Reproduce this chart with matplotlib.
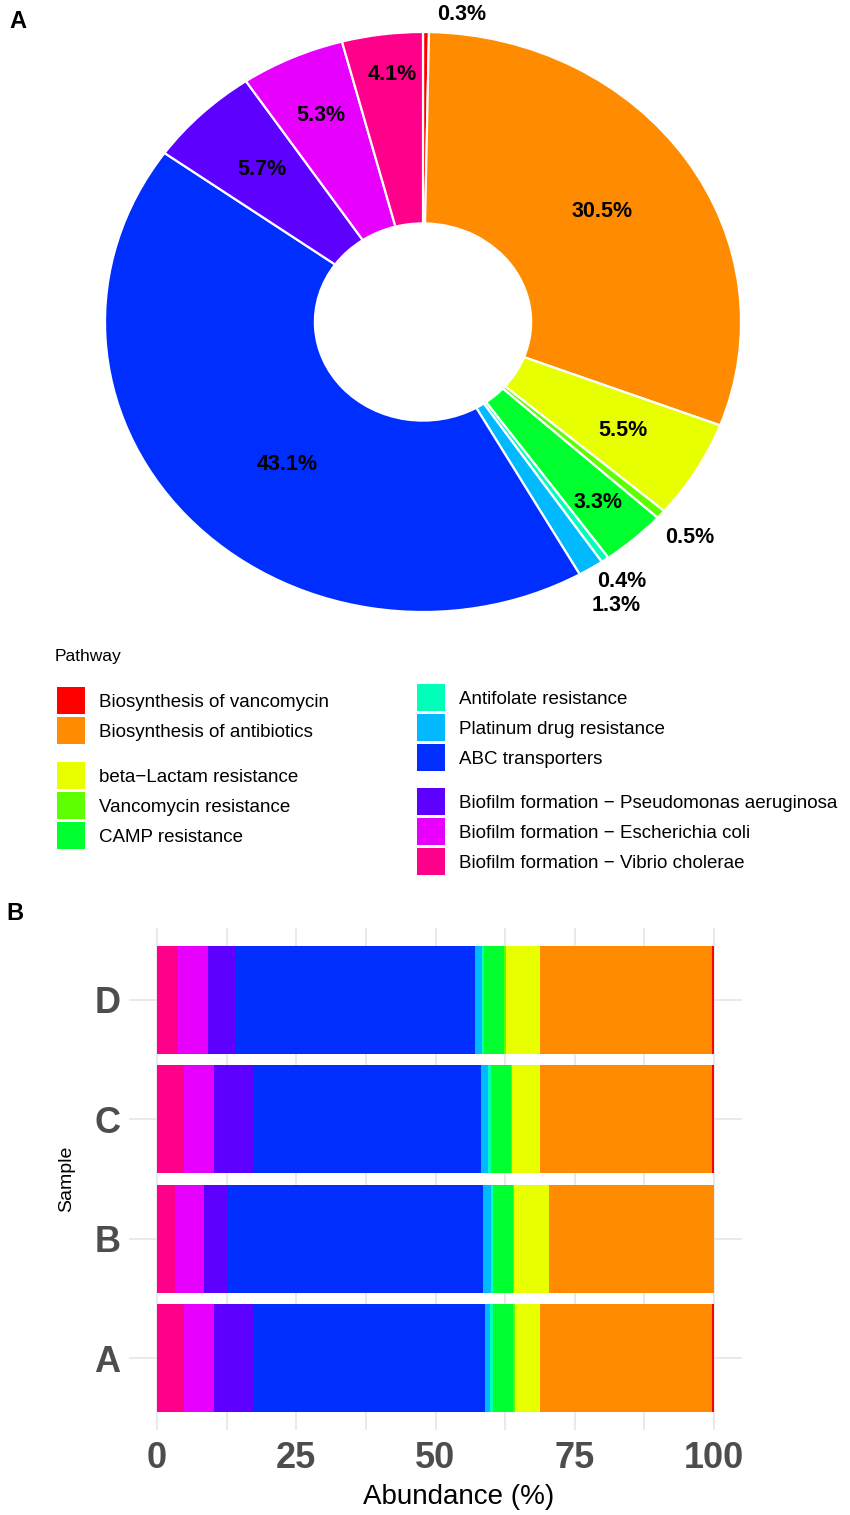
import numpy as np
import matplotlib
matplotlib.use("Agg")
import matplotlib.pyplot as plt
from matplotlib.patches import Patch
from matplotlib.font_manager import FontProperties

plt.rcParams['font.family'] = ['Liberation Sans', 'DejaVu Sans']

# pathway order = order of the pie (clockwise from 12 o'clock)
pathways = [
    "Biosynthesis of vancomycin",
    "Biosynthesis of antibiotics",
    "beta\u2212Lactam resistance",
    "Vancomycin resistance",
    "CAMP resistance",
    "Antifolate resistance",
    "Platinum drug resistance",
    "ABC transporters",
    "Biofilm formation \u2212 Pseudomonas aeruginosa",
    "Biofilm formation \u2212 Escherichia coli",
    "Biofilm formation \u2212 Vibrio cholerae",
]
colors = ["#FF0000", "#FF8B00", "#E8FF00", "#5DFF00", "#00FF2E", "#00FFB9",
          "#00B9FF", "#002EFF", "#5D00FF", "#E800FF", "#FF008B"]
overall_pct = [0.3, 30.5, 5.5, 0.5, 3.3, 0.4, 1.3, 43.1, 5.7, 5.3, 4.1]

samples = ["A", "B", "C", "D"]
# abundance (%) per sample, same order as pathways
abund_A = [0.4, 30.8, 4.6, 0.3, 3.5, 0.7, 0.9, 41.6, 6.9, 5.5, 4.8]
abund_B = [0.1, 29.6, 6.2, 0.2, 3.6, 0.3, 1.4, 46.1, 4.0, 5.2, 3.3]
abund_C = [0.3, 31.0, 4.9, 0.2, 3.7, 0.5, 1.3, 40.7, 7.1, 5.5, 4.8]
abund_D = [0.3, 30.9, 6.1, 0.4, 3.6, 0.3, 1.3, 43.0, 5.0, 5.3, 3.8]
abundance = np.array([abund_A, abund_B, abund_C, abund_D])

W, H = 850, 1515
fig = plt.figure(figsize=(W / 100, H / 100), dpi=100)


def fx(px):
    return px / W


def fy(py):
    return 1 - py / H


# ---------- A: donut ----------
ax = fig.add_axes([fx(105), fy(612), fx(636), 580 / H])
ax.pie(overall_pct, colors=colors, startangle=90, counterclock=False, radius=1,
       wedgeprops=dict(width=0.66, edgecolor='white', linewidth=1.6))
ax.set_aspect('auto')
ax.set_xlim(-1, 1)
ax.set_ylim(-1, 1)
ax.axis('off')

# label radius per slice (inside ring for big slices, outside for small ones)
label_r = {0: 1.06, 1: 0.68, 2: 0.73, 3: 1.12, 4: 0.83, 5: 1.09, 6: 1.15,
           7: 0.65, 8: 0.73, 9: 0.78, 10: 0.86}
nudge = {0: (36, 0), 7: (18, -17), 10: (4, 0)}
cum = np.cumsum([0] + overall_pct)
for i, p in enumerate(overall_pct):
    ang = np.deg2rad((cum[i] + p / 2) / 100 * 360)
    r = label_r[i]
    x, y = r * np.sin(ang), r * np.cos(ang)
    ax.annotate(f"{p}%", (x, y), xytext=nudge.get(i, (0, 0)), textcoords='offset pixels',
                ha='center', va='center', fontsize=15.5, fontweight='bold',
                color='black', annotation_clip=False)

fig.text(fx(9), fy(21), "A", fontsize=17, fontweight='bold', va='center', ha='left')

# ---------- legend ----------
fig.text(fx(55), fy(656), "Pathway", fontsize=12.5, va='center', ha='left')
groups = [([0, 1], (57, 687)), ([2, 3, 4], (57, 762)),
          ([5, 6, 7], (417, 684)), ([8, 9, 10], (417, 788))]
for idx, (px, py) in groups:
    handles = [Patch(facecolor=colors[k], edgecolor='none', label=pathways[k]) for k in idx]
    fig.legend(handles=handles, loc='upper left', bbox_to_anchor=(fx(px), fy(py)),
               frameon=False, fontsize=13.5, handlelength=1.5, handleheight=1.84,
               labelspacing=0.16, handletextpad=0.75, borderpad=0, borderaxespad=0)

# ---------- B: stacked bars ----------
bx = fig.add_axes([fx(129), fy(1430), fx(613), 502 / H])
left = np.zeros(len(samples))
for k in reversed(range(len(pathways))):
    bx.barh(samples, abundance[:, k], left=left, color=colors[k], height=0.9,
            edgecolor='none', zorder=3)
    left += abundance[:, k]

bx.set_xlim(-5, 105)
bx.set_ylim(-0.6, 3.6)
bx.set_xticks([0, 25, 50, 75, 100])
bx.set_xticks([12.5, 37.5, 62.5, 87.5], minor=True)
bx.grid(which='both', axis='x', color='#E6E6E6', linewidth=1.2, zorder=0)
bx.grid(which='major', axis='y', color='#E6E6E6', linewidth=1.2, zorder=0)
bx.set_axisbelow(True)
for s in bx.spines.values():
    s.set_visible(False)
bx.tick_params(which='both', length=0)
bx.tick_params(axis='x', pad=8)
bx.tick_params(axis='y', pad=6)
tick_font = FontProperties(family=['Liberation Sans Narrow', 'Liberation Sans'],
                           weight='bold', size=26)
for lab in bx.get_xticklabels() + bx.get_yticklabels():
    lab.set_fontproperties(tick_font)
    lab.set_color('#4D4D4D')
bx.set_xlabel("Abundance (%)", fontsize=20, labelpad=6)
bx.xaxis.label.set_x(0.537)
bx.set_ylabel("Sample", fontsize=14, labelpad=14)

fig.text(fx(6), fy(913), "B", fontsize=17, fontweight='bold', va='center', ha='left')

fig.savefig("out.png", dpi=100)
